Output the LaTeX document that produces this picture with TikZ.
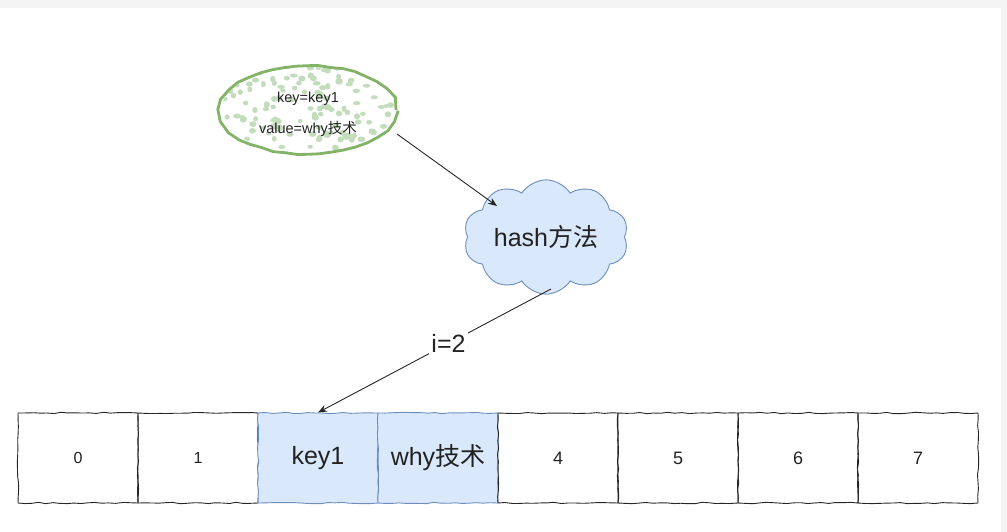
\documentclass[tikz,border=0pt]{standalone}
\usepackage{fontspec}
\setmainfont{Liberation Sans}
\newfontfamily\cjk{Noto Sans CJK SC}
\usetikzlibrary{shapes.symbols,shapes.geometric,decorations.pathmorphing,arrows.meta}
\definecolor{bluefill}{HTML}{DAE8FC}
\definecolor{bluestroke}{HTML}{6C8EBF}
\definecolor{greenstroke}{HTML}{82B366}
\definecolor{greendot}{HTML}{C2DCBC}
\definecolor{bandgray}{HTML}{F4F4F4}
\definecolor{txt}{HTML}{222222}
\tikzset{
  cellbox/.style={draw=black!85, line width=0.9pt, minimum width=120pt, minimum height=90pt, inner sep=0pt,
    font=\fontsize{18}{21}\selectfont, text=txt,
    decorate, decoration={random steps, segment length=7pt, amplitude=0.7pt}},
  smallcell/.style={cellbox, font=\fontsize{16}{19}\selectfont},
  hotcell/.style={cellbox, fill=bluefill, draw=bluestroke, font=\fontsize{25}{30}\selectfont},
  conn/.style={draw=black!85, line width=0.9pt, -{Stealth[length=9pt,width=7pt]}},
}
\begin{document}
\begin{tikzpicture}[x=1pt,y=-1pt]
\useasboundingbox (0,0) rectangle (1007,532);
\fill[bandgray] (0,0) rectangle (1007,8);
\fill[bandgray] (1001,8) rectangle (1007,532);
% ellipse with dotted fill
\begin{scope}
  \clip (308,110) ellipse [x radius=87pt, y radius=43pt];
  \pgfmathsetseed{11}
  \foreach \i in {1,...,150} {
    \pgfmathsetmacro{\px}{220+176*rnd}
    \pgfmathsetmacro{\py}{66+88*rnd}
    \pgfmathsetmacro{\rx}{2.4+1.6*rnd}
    \pgfmathsetmacro{\ry}{2.0+1.4*rnd}
    \fill[greendot] (\px,\py) ellipse [x radius=\rx pt, y radius=\ry pt];
  }
\end{scope}
\node[ellipse, draw=greenstroke, line width=2.8pt, minimum width=176pt, minimum height=88pt,
  decorate, decoration={random steps, segment length=12pt, amplitude=0.8pt}] (kv) at (308,110) {};
\node[font=\fontsize{14.5}{17}\selectfont, text=txt, align=center] (kvt) at (308,114)
  {key=key1\\[14pt]value=why{\cjk 技术}};
% cloud
\node[cloud, cloud puffs=10, cloud puff arc=115, aspect=1.7, draw=bluestroke, fill=bluefill, line width=0.9pt,
  minimum width=162pt, minimum height=98pt, font=\fontsize{25}{30}\selectfont, text=txt] (hash) at (546,237)
  {hash{\cjk 方法}};
% cells
\node[smallcell] (c0) at (78,458) {0};
\node[smallcell] (c1) at (198,458) {1};
\node[hotcell] (c2) at (318,458) {key1};
\node[hotcell] (c3) at (438,458) {why{\cjk 技术}};
\node[cellbox] (c4) at (558,458) {4};
\node[cellbox] (c5) at (678,458) {5};
\node[cellbox] (c6) at (798,458) {6};
\node[cellbox] (c7) at (918,458) {7};
% connectors
\coordinate (a1) at (397,134);
\coordinate (b1) at (497,206);
\draw[conn] (a1) -- (b1);
\coordinate (a2) at (551,289);
\draw[conn] (a2) -- node[pos=0.44, fill=white, inner sep=2pt, font=\fontsize{25}{30}\selectfont, text=txt] {i=2} (c2.north);
\end{tikzpicture}
\end{document}
